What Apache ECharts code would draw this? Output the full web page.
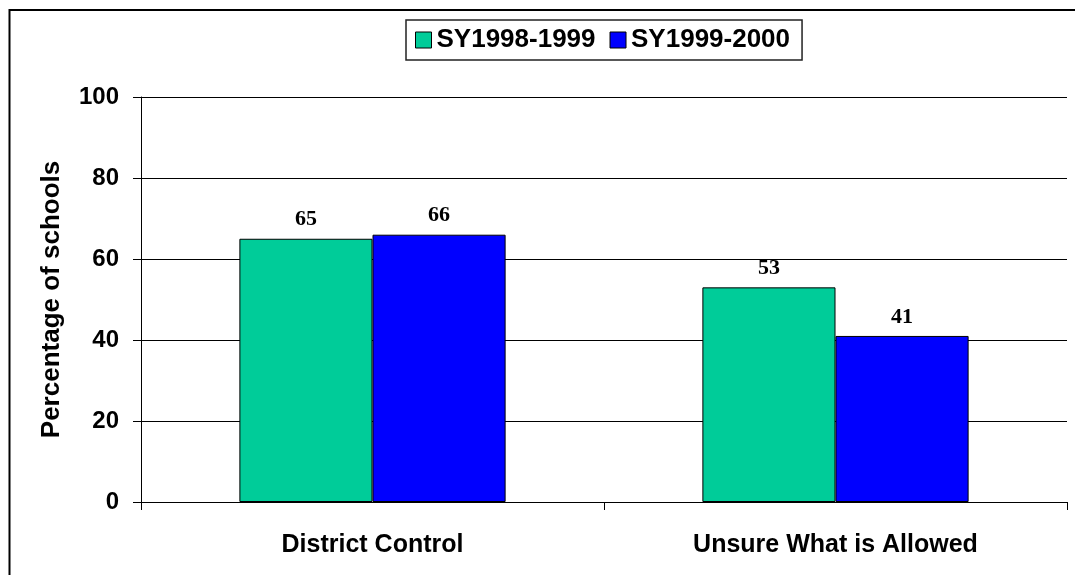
<!DOCTYPE html>
<html lang="en">
<head>
    <meta charset="UTF-8">
    <script type="text/javascript" src="https://cdn.jsdelivr.net/npm/echarts@6/dist/echarts.min.js"></script>
    <title>Percentage of schools</title>
    <style>
        html, body { margin: 0; padding: 0; background: #fff; }
    </style>
</head>
<body>
    <div id="main" style="width:1075px; height:575px;"></div>
<script>
// data
var categories = ['District Control', 'Unsure What is Allowed'];
var seriesNames = ['SY1998-1999', 'SY1999-2000'];
var sy9899 = [65, 53];
var sy9900 = [66, 41];
var yTicks = [0, 20, 40, 60, 80, 100];

var colors = ['#00CC99', '#0000FF'];

function barSeries(name, data, color) {
    return {
        name: name,
        type: 'bar',
        data: data,
        barGap: '0%',
        barCategoryGap: '42.5%',
        itemStyle: { color: color, borderColor: '#000', borderWidth: 1 },
        label: {
            show: true,
            position: 'top',
            distance: 8,
            fontFamily: 'Liberation Serif',
            fontWeight: 'bold',
            fontSize: 22,
            color: '#000'
        }
    };
}

var option = {
    animation: false,
    color: colors,
    grid: { left: 141, right: 8, top: 97, bottom: 73 },
    graphic: [{
        type: 'rect',
        shape: { x: 9.5, y: 10, width: 1200, height: 700 },
        style: { fill: 'none', stroke: '#000', lineWidth: 2 },
        silent: true
    }],
    legend: {
        data: seriesNames,
        left: 406,
        top: 20,
        padding: [7, 12, 7, 9],
        itemGap: 14,
        itemWidth: 16,
        itemHeight: 16,
        icon: 'rect',
        borderColor: '#222',
        borderWidth: 1.5,
        itemStyle: { borderColor: '#000', borderWidth: 1 },
        textStyle: {
            fontFamily: 'Liberation Sans',
            fontWeight: 'bold',
            fontSize: 26,
            color: '#000'
        }
    },
    xAxis: {
        type: 'category',
        data: categories,
        axisLine: { lineStyle: { color: '#000', width: 1 } },
        axisTick: { show: true, length: 8, lineStyle: { color: '#000' } },
        axisLabel: {
            margin: 31,
            fontFamily: 'Liberation Sans',
            fontWeight: 'bold',
            fontSize: 25,
            color: '#000'
        }
    },
    yAxis: {
        type: 'value',
        min: yTicks[0],
        max: yTicks[yTicks.length - 1],
        interval: 20,
        name: 'Percentage of schools',
        nameLocation: 'middle',
        nameGap: 76,
        nameTextStyle: {
            fontFamily: 'Liberation Sans',
            fontWeight: 'bold',
            fontSize: 26,
            color: '#000'
        },
        axisLine: { show: true, lineStyle: { color: '#000', width: 1 } },
        axisTick: { show: true, length: 8, lineStyle: { color: '#000' } },
        splitLine: { show: true, lineStyle: { color: '#000', width: 1 } },
        axisLabel: {
            margin: 22,
            fontFamily: 'Liberation Sans',
            fontWeight: 'bold',
            fontSize: 24,
            color: '#000'
        }
    },
    series: [
        barSeries(seriesNames[0], sy9899, colors[0]),
        barSeries(seriesNames[1], sy9900, colors[1])
    ]
};

var myChart = echarts.init(document.getElementById('main'));
myChart.setOption(option);
</script>
</body>
</html>
